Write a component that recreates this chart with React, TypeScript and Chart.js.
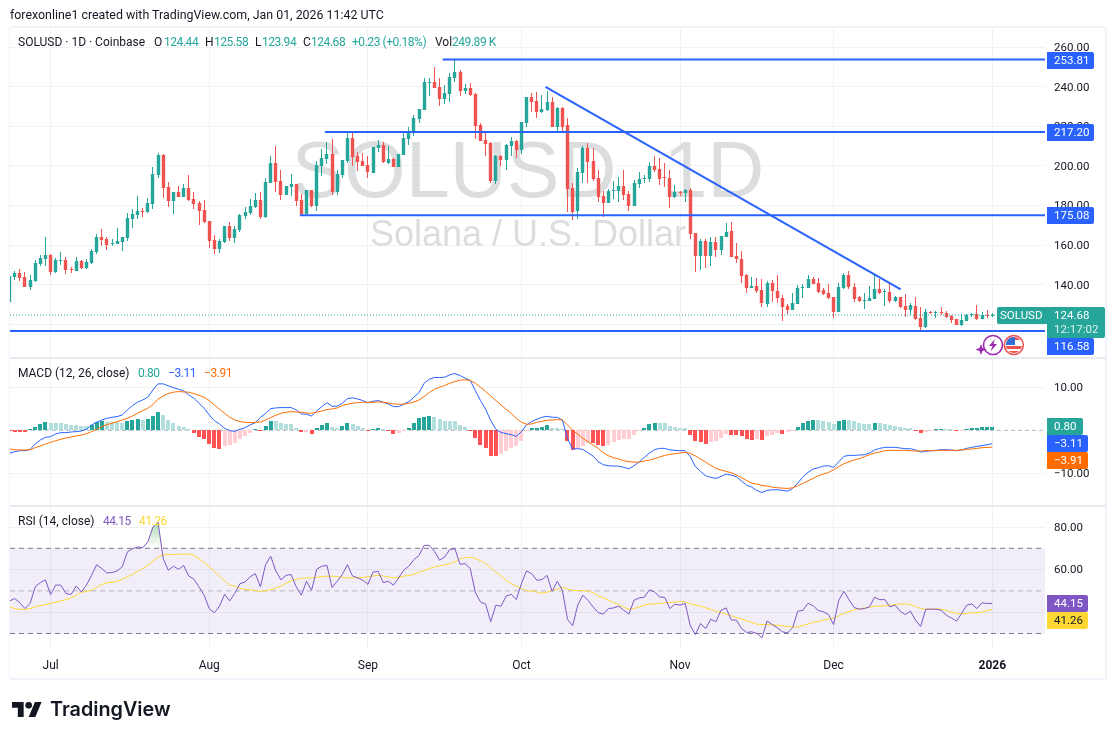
import React, { useEffect, useRef } from "react";
import { Chart, registerables } from "chart.js";

Chart.register(...registerables);

// Calendar: index 0 of every series is 23 Jun 2025, values are expressed in days after 1 Jul 2025
const firstDay = -8;
const monthDays = [0, 31, 62, 92, 123, 153, 184];
const monthLabels = ["Jul", "Aug", "Sep", "Oct", "Nov", "Dec", "2026"];

const openPrices = [
  131.5,143.9,145.8,143.9,138.8,141.9,150.5,153.0,
  155.0,146.4,152.2,152.5,148.0,147.1,152.0,148.5,
  151.0,156.5,164.1,163.1,160.8,160.8,161.6,163.6,
  173.2,175.2,177.3,176.8,180.8,195.6,205.6,189.4,
  182.3,186.9,184.3,188.9,183.3,181.3,177.8,172.2,
  162.6,158.1,161.6,169.7,163.6,167.7,174.7,176.3,
  179.3,182.8,174.2,191.4,201.5,192.4,185.3,189.4,
  190.9,182.8,175.8,187.9,179.8,200.0,203.5,206.1,
  186.9,195.5,202.5,214.2,205.1,202.5,200.5,196.5,
  209.1,210.6,201.5,203.5,199.5,205.6,213.6,216.7,
  223.8,228.3,242.0,242.5,239.9,233.9,236.4,244.5,
  247.5,237.9,239.4,236.4,220.7,213.1,211.6,192.4,
  205.1,203.0,210.1,212.6,208.1,221.7,234.9,232.8,
  227.3,228.3,232.4,219.7,229.3,220.7,188.9,177.3,
  196.5,209.1,202.5,193.9,184.8,181.3,187.5,187.4,
  189.9,185.8,179.8,190.9,193.4,193.4,200.0,198.5,
  193.9,193.9,184.3,186.9,186.2,187.9,166.1,154.5,
  162.1,154.5,161.4,157.5,163.9,167.1,154.5,153.2,
  144.9,138.5,139.2,137.3,130.1,140.9,136.8,133.1,
  129.1,127.2,130.1,138.2,138.2,143.1,141.0,137.3,
  136.0,133.6,126.1,138.2,144.9,139.0,133.6,131.8,
  132.0,132.6,137.8,136.2,136.3,132.0,133.6,129.3,
  127.2,129.3,123.2,118.8,126.2,125.6,126.2,125.9,
  124.4,122.5,119.5,121.9,124.7,125.2,122.9,124.7,
  124.44,
];
const highPrices = [
  144.4,146.8,148.0,146.3,144.8,152.5,155.0,164.1,
  155.5,153.3,156.5,154.0,149.0,154.0,152.5,153.0,
  158.1,165.6,168.2,164.1,163.1,168.7,164.1,176.3,
  178.3,184.8,178.8,183.8,199.5,206.6,206.1,191.9,
  186.9,189.9,190.9,195.5,186.9,182.3,182.8,172.2,
  165.1,163.1,169.7,171.7,169.7,175.8,179.3,183.3,
  186.4,186.9,193.9,205.1,210.1,198.0,189.9,196.0,
  190.9,185.9,187.9,187.9,202.5,208.6,212.1,213.6,
  198.0,203.0,217.2,217.7,207.1,206.6,205.1,209.6,
  213.2,212.1,210.1,204.0,206.1,217.2,219.7,225.8,
  228.8,244.5,244.5,250.0,244.5,240.9,247.0,253.6,
  248.5,241.4,241.9,236.9,221.7,217.2,212.1,205.6,
  205.6,211.1,214.7,213.1,222.2,234.9,236.9,237.4,
  235.9,237.9,234.9,229.8,229.8,224.3,191.4,199.0,
  210.1,211.6,209.1,198.0,187.4,188.4,192.4,194.5,
  198.0,187.4,192.9,197.0,195.5,202.0,205.1,204.0,
  201.5,198.0,190.4,187.4,188.4,188.9,166.1,163.1,
  163.1,163.9,163.9,164.6,171.0,171.7,160.9,157.0,
  145.2,144.1,143.6,143.1,141.9,142.4,144.9,134.8,
  130.1,135.7,139.7,140.4,144.9,144.1,143.6,138.2,
  140.2,133.6,140.7,145.8,147.0,140.7,134.1,136.0,
  139.4,144.9,142.9,137.7,140.7,134.3,134.0,135.2,
  130.6,133.8,128.9,127.6,126.7,126.7,128.9,126.7,
  124.7,122.9,125.0,125.2,125.7,129.8,126.2,127.1,
  125.58,
];
const lowPrices = [
  131.5,142.6,142.0,138.8,137.3,141.6,149.5,149.5,
  144.9,145.9,150.1,145.6,145.9,147.1,148.1,148.0,
  150.5,155.5,159.6,157.5,159.6,160.6,157.0,162.1,
  168.7,173.2,174.2,176.3,178.3,193.9,183.8,179.3,
  175.8,184.3,184.3,182.3,178.3,170.2,171.2,158.6,
  155.5,156.0,161.1,162.1,161.1,166.7,173.2,175.2,
  178.8,173.2,173.7,191.4,186.9,182.8,185.3,184.8,
  179.8,175.2,175.8,179.3,177.3,195.0,201.0,185.3,
  185.3,193.8,201.5,200.0,197.5,200.0,193.9,196.5,
  207.1,201.5,201.0,199.5,199.5,205.6,210.6,215.2,
  221.7,228.3,235.4,239.4,230.3,231.3,232.4,242.5,
  235.4,236.4,235.4,213.6,212.6,205.1,191.4,190.9,
  200.0,198.0,205.1,204.0,206.1,219.7,227.3,224.3,
  226.8,227.8,219.7,217.7,216.7,176.8,172.7,173.2,
  191.4,191.4,192.4,181.8,174.2,181.3,183.3,181.8,
  182.8,177.3,179.8,188.9,191.4,191.9,197.0,190.4,
  189.4,178.8,183.8,184.8,181.8,163.1,146.4,147.4,
  148.3,149.6,154.2,155.0,163.9,154.0,151.0,141.0,
  136.0,138.5,135.7,128.6,128.6,131.5,130.6,121.7,
  125.1,127.2,130.1,133.1,138.2,140.2,135.7,134.8,
  132.6,123.4,126.1,137.8,137.7,131.1,131.1,127.7,
  132.0,132.6,135.3,129.3,130.6,131.5,128.2,123.9,
  124.7,122.2,116.6,118.0,125.2,123.4,124.7,123.0,
  120.8,119.5,119.2,121.5,123.5,122.2,122.9,123.4,
  123.94,
];
const closePrices = [
  144.4,145.8,143.2,139.0,142.2,151.0,153.5,155.0,
  146.6,152.5,152.5,147.6,147.5,152.0,148.5,151.5,
  157.0,164.1,162.6,160.1,161.1,162.1,164.1,173.7,
  175.8,177.3,176.8,181.3,196.0,205.6,188.9,182.3,
  186.9,184.3,188.9,182.8,180.8,177.3,171.7,162.1,
  158.1,162.1,169.7,163.6,168.2,175.2,176.8,179.8,
  182.8,174.2,191.9,201.5,191.9,185.3,189.9,190.9,
  182.3,175.8,187.9,179.8,200.5,204.0,206.1,186.9,
  196.0,203.0,214.2,204.5,202.0,200.0,197.0,209.6,
  210.6,202.0,203.5,199.5,206.1,214.2,217.2,224.3,
  228.8,242.5,242.5,239.4,233.9,236.9,245.0,247.5,
  237.9,239.4,235.9,220.2,212.6,211.1,192.4,205.1,
  203.0,210.6,212.6,208.1,222.2,234.9,232.4,227.3,
  228.8,232.4,219.7,229.3,219.7,188.4,176.8,197.0,
  209.1,202.0,193.4,184.3,181.3,187.4,187.9,189.9,
  185.3,179.8,191.4,193.4,193.9,200.0,198.0,193.4,
  193.8,184.3,186.9,186.2,187.9,165.6,154.5,162.1,
  154.5,161.4,157.5,164.6,166.8,154.0,153.2,144.4,
  138.5,139.2,136.8,130.6,140.9,136.8,133.1,128.6,
  127.2,130.6,138.5,139.0,143.1,140.5,136.5,135.2,
  133.1,126.1,138.9,144.9,138.7,133.0,131.8,132.3,
  133.3,137.8,135.7,136.8,131.8,134.0,128.6,127.2,
  129.6,122.7,118.8,126.2,125.6,126.2,125.7,123.9,
  122.2,119.8,122.2,124.7,125.2,122.7,124.7,124.4,
  124.68,
];

const macdHist = [
  -0.2,-0.3,-0.3,-0.4,0.1,0.7,1.5,1.9,
  1.7,1.7,1.7,1.5,1.3,1.3,1.0,1.0,
  1.3,1.9,2.2,2.0,2.0,1.9,1.7,2.2,
  2.4,2.6,2.4,2.7,3.3,4.3,3.6,2.5,
  1.7,1.0,0.8,0.1,-0.7,-1.5,-2.1,-3.2,
  -4.0,-4.3,-3.6,-3.4,-2.9,-2.1,-1.3,-0.6,
  0.4,-0.1,1.0,2.2,2.2,1.7,1.5,1.5,
  0.5,-0.5,-0.4,-0.8,0.5,1.2,1.7,0.8,
  0.6,1.0,1.7,1.4,0.9,0.5,-0.1,0.3,
  0.5,0.1,-0.2,-0.8,-0.7,-0.1,0.5,1.6,
  2.8,3.2,3.3,3.0,2.6,2.2,2.2,2.1,
  1.2,0.7,-0.2,-1.8,-3.3,-4.1,-5.9,-5.9,
  -5.6,-4.7,-4.1,-3.6,-2.5,-0.1,0.5,0.6,
  0.85,1.2,0.5,0.5,0.05,-2.5,-4.6,-4.3,
  -3.6,-2.9,-3.0,-3.4,-3.6,-3.4,-2.7,-2.2,
  -2.1,-2.0,-1.1,-0.1,0.5,1.5,1.7,1.7,
  1.7,1.1,0.7,0.5,0.5,-1.0,-2.5,-2.7,
  -3.2,-2.7,-2.5,-1.7,-0.95,-1.0,-1.2,-1.3,
  -2.1,-2.2,-2.1,-2.25,-1.4,-1.0,-0.6,-0.85,
  -0.5,-0.2,0.7,1.6,2.1,2.4,2.35,2.15,
  1.9,1.5,2.1,2.4,2.3,2.1,1.6,1.55,
  1.5,1.7,1.7,1.55,1.15,1.1,0.7,0.55,
  0.5,-0.15,-0.55,-0.3,-0.15,0.15,0.3,0.25,
  0.1,-0.1,-0.05,0.3,0.5,0.55,0.7,0.75,
  0.8,
];
const macdLine = [
  -5.35,-4.96,-4.73,-4.73,-4.42,-3.18,-2.25,-1.63,
  -1.47,-0.85,-0.54,-0.54,-0.39,-0.31,-0.16,0.23,
  1.24,1.86,2.40,2.79,3.02,3.18,3.57,4.73,
  5.74,6.51,7.05,7.67,9.38,10.78,10.78,10.31,
  9.92,9.53,9.15,8.22,7.44,6.28,5.12,3.57,
  2.25,1.47,0.47,-0.08,-0.23,0.23,0.62,1.24,
  1.78,3.02,3.95,5.04,5.19,5.27,5.27,5.27,
  4.73,3.80,3.72,3.33,4.50,5.50,6.43,5.58,
  5.58,6.28,7.36,7.52,7.29,6.90,6.36,6.74,
  6.90,6.51,6.12,5.50,5.50,6.05,6.67,7.67,
  8.76,10.93,11.86,12.25,12.25,12.33,12.87,13.18,
  12.71,12.09,11.55,9.22,6.90,4.88,2.25,0.23,
  -0.47,-0.78,-1.01,-1.40,-0.31,1.24,2.02,2.56,
  3.02,3.26,3.02,3.02,2.40,-1.86,-4.34,-4.26,
  -4.42,-5.19,-5.97,-7.29,-7.98,-8.22,-8.29,-8.29,
  -8.60,-8.91,-8.22,-7.36,-6.28,-5.27,-4.50,-4.19,
  -4.19,-4.57,-4.65,-4.73,-4.73,-6.12,-8.45,-9.53,
  -10.54,-10.93,-11.16,-10.70,-10.16,-10.39,-10.78,-11.78,
  -12.71,-13.18,-13.95,-14.42,-13.95,-13.80,-13.80,-13.95,
  -14.11,-13.49,-12.25,-10.78,-9.77,-8.99,-8.68,-8.29,
  -8.22,-8.60,-7.29,-6.05,-5.81,-5.81,-5.74,-5.66,
  -5.27,-4.57,-4.19,-3.95,-3.95,-3.95,-4.11,-4.26,
  -4.26,-4.57,-5.04,-4.88,-4.73,-4.65,-4.50,-4.50,
  -4.57,-4.73,-4.57,-4.19,-3.95,-3.72,-3.55,-3.35,
  -3.11,
];
const macdSignal = [
  -4.34,-4.50,-4.57,-4.57,-4.50,-4.03,-3.64,-3.18,
  -2.79,-2.40,-2.09,-1.78,-1.55,-1.32,-1.09,-0.78,
  -0.31,0.23,0.85,1.32,1.63,2.02,2.40,2.79,
  3.33,3.95,4.57,5.12,5.97,7.21,7.98,8.53,
  8.84,8.99,8.91,8.84,8.53,8.14,7.67,6.90,
  5.89,4.88,3.95,3.02,2.40,2.02,1.86,1.78,
  1.86,1.94,2.40,2.95,3.49,3.95,4.19,4.34,
  4.26,4.19,4.03,3.95,4.19,4.50,4.81,4.96,
  5.19,5.74,6.05,6.28,6.43,6.51,6.51,6.51,
  6.59,6.51,6.36,6.12,6.05,6.05,6.28,6.59,
  7.05,7.83,8.76,9.53,10.0,10.39,10.93,11.32,
  11.63,11.71,11.55,10.93,10.0,8.99,7.98,6.90,
  5.89,4.88,3.95,2.79,1.86,1.40,1.47,1.86,
  2.09,2.33,2.40,2.48,2.40,1.24,0.08,-0.93,
  -1.86,-2.64,-3.41,-4.19,-5.19,-5.89,-6.36,-6.67,
  -7.05,-7.29,-7.36,-7.36,-7.13,-6.90,-6.59,-6.20,
  -5.81,-5.58,-5.43,-5.27,-5.12,-5.35,-5.97,-6.67,
  -7.36,-8.14,-8.84,-9.22,-9.53,-9.84,-10.39,-11.01,
  -11.63,-12.25,-12.48,-12.79,-12.95,-13.18,-13.33,-13.41,
  -13.49,-13.33,-12.87,-12.33,-11.71,-11.16,-10.54,-10.16,
  -9.77,-9.15,-8.45,-7.75,-7.29,-6.90,-6.59,-6.12,
  -5.66,-5.27,-5.04,-4.73,-4.65,-4.65,-4.65,-4.65,
  -4.73,-4.81,-4.81,-4.73,-4.73,-4.73,-4.65,-4.65,
  -4.65,-4.65,-4.57,-4.42,-4.34,-4.19,-4.03,-3.99,
  -3.91,
];

const rsiLine = [
  45.3,46.4,44.4,41.7,44.1,51.9,53.9,55.2,
  48.3,52.7,52.7,48.8,48.3,52.3,49.5,52.7,
  57.3,62.3,60.5,58.4,58.6,59.4,61.3,68.3,
  69.8,70.6,70.3,73.0,80.0,82.3,65.2,59.7,
  61.6,60.2,61.9,57.0,55.5,51.9,48.0,41.7,
  39.7,42.8,48.4,45.3,48.8,53.4,54.2,56.6,
  58.1,51.9,62.3,66.3,59.4,55.2,57.3,57.7,
  51.9,48.0,54.5,50.3,60.2,61.6,62.0,51.6,
  54.5,57.7,62.3,57.0,56.1,55.0,53.1,58.8,
  59.2,53.9,54.5,52.7,56.1,59.7,61.6,64.7,
  66.7,71.4,71.4,68.6,64.4,65.9,69.4,69.8,
  62.5,62.8,60.5,49.2,44.8,43.8,35.5,43.3,
  42.8,47.5,48.4,45.9,53.4,59.4,58.1,55.0,
  55.3,57.3,49.8,54.5,50.3,36.7,33.6,43.3,
  48.0,45.6,42.5,39.8,39.1,41.7,42.0,42.8,
  40.9,39.1,45.6,46.7,47.0,50.5,49.5,47.2,
  46.9,41.7,43.8,43.3,44.1,33.6,29.5,34.7,
  32.3,36.7,35.5,40.9,42.0,36.3,36.3,32.3,
  30.5,30.8,30.0,28.0,35.9,34.2,32.7,30.8,
  30.3,32.8,40.5,40.9,44.2,43.0,40.8,40.2,
  38.9,34.2,45.6,49.8,45.9,42.2,41.4,41.7,
  42.5,47.0,45.9,45.9,42.5,43.3,40.5,38.9,
  40.5,36.3,33.3,41.4,41.4,41.4,40.9,38.6,
  37.3,35.8,39.4,43.3,43.9,41.7,44.4,44.1,
  44.15,
];
const rsiAverage = [
  42.5,41.7,41.4,41.3,41.7,42.5,43.1,43.6,
  44.1,44.7,45.3,45.9,46.7,48.0,49.4,49.7,
  50.3,51.6,53.0,53.8,54.1,54.4,55.5,56.6,
  57.8,59.1,60.5,62.0,63.9,65.9,67.0,67.0,
  67.0,67.2,67.3,67.3,66.7,65.2,63.3,61.3,
  59.2,57.0,54.8,52.7,52.2,51.1,50.8,50.5,
  50.2,49.7,50.0,50.6,51.3,52.3,53.6,54.8,
  55.5,55.8,56.1,56.1,56.4,56.7,56.9,56.9,
  56.7,56.4,56.1,56.1,56.3,56.3,56.7,57.0,
  57.3,57.0,56.6,56.1,56.4,56.9,57.3,57.8,
  58.9,59.5,60.5,61.3,61.7,62.3,62.8,63.6,
  65.2,65.5,65.8,65.2,64.1,62.8,60.9,58.9,
  57.0,55.0,53.4,52.2,51.1,50.2,49.8,49.5,
  48.9,49.4,50.2,50.8,51.7,50.8,50.2,50.2,
  50.0,50.0,49.1,47.7,46.7,45.6,44.5,43.6,
  42.3,41.4,41.6,42.5,43.3,43.8,43.9,44.1,
  44.4,44.5,44.8,45.0,44.8,43.9,43.3,42.8,
  42.0,41.3,40.5,39.8,39.1,38.3,37.5,36.9,
  35.9,35.2,34.4,34.2,34.2,34.1,33.9,33.6,
  33.3,33.0,33.1,33.8,34.4,35.2,35.6,36.3,
  36.7,37.2,38.3,39.4,40.3,41.1,41.7,41.9,
  42.3,42.8,42.8,43.0,43.3,43.6,43.8,43.9,
  43.6,42.7,41.7,41.4,41.4,41.6,41.4,40.8,
  40.0,39.4,39.2,39.4,39.7,39.8,40.0,40.8,
  41.26,
];

const priceTicks = [120, 140, 160, 180, 200, 220, 240, 260];
const macdTicks = [-10, 10];
const rsiTicks = [40, 60, 80];

// Hand-drawn lines on the chart: [start day, end day, start price, end price]
const resistanceTop = [76.6, 194.3, 253.81, 253.81];
const resistanceMid = [53.6, 194.3, 217.2, 217.2];
const supportMid = [48.7, 194.3, 175.08, 175.08];
const supportLow = [-7.93, 194.3, 116.58, 116.58];
const downTrend = [96.7, 166.1, 240.0, 137.7];
const lastPrice = 124.68;
const rsiLevels = [70, 50, 30];
const xRange = [-7.93, 194.3];
const priceRange = [102.97, 269.72];
const macdRange = [-17.33, 16.78];
const rsiRange = [22.25, 90.33];

const UP = "#26a69a";
const DOWN = "#ef5350";
const BLUE = "#2962ff";
const ORANGE = "#ff6d00";
const PURPLE = "#7e57c2";
const YELLOW = "#fdd835";
const INK = "#131722";
const GRID = "#f1f2f4";
const FONT = "Roboto, 'Open Sans', sans-serif";
const TICK_PX = 11.5;

const xy = (vals: number[]) => vals.map((y, i) => ({ x: firstDay + i, y }));
const ranged = (a: number[], b: number[]) => a.map((v, i) => ({ x: firstDay + i, y: [v, b[i]] }));
const segment = (s: number[]) => [{ x: s[0], y: s[2] }, { x: s[1], y: s[3] }];
const level = (v: number) => [{ x: xRange[0], y: v }, { x: xRange[1], y: v }];

const candleColors = openPrices.map((o, i) => (closePrices[i] >= o ? UP : DOWN));
const histColors = macdHist.map((h, i) => {
  const prev = i > 0 ? macdHist[i - 1] : h;
  if (h >= 0) return h > prev ? UP : "#b2dfdb";
  return h > prev ? "#ffcdd2" : "#ff5252";
});

const priceTags = [
  { text: "253.81", top: 52, h: 17, w: 47, bg: BLUE, fg: "#fff" },
  { text: "217.20", top: 124, h: 17, w: 47, bg: BLUE, fg: "#fff" },
  { text: "175.08", top: 207, h: 17, w: 47, bg: BLUE, fg: "#fff" },
  { text: "116.58", top: 338, h: 17, w: 47, bg: BLUE, fg: "#fff" },
  { text: "0.80", top: 418, h: 17, w: 36, bg: UP, fg: "#fff" },
  { text: "\u22123.11", top: 435, h: 17, w: 41, bg: BLUE, fg: "#fff" },
  { text: "\u22123.91", top: 452, h: 17, w: 41, bg: ORANGE, fg: "#fff" },
  { text: "44.15", top: 595, h: 17, w: 41, bg: PURPLE, fg: "#fff" },
  { text: "41.26", top: 612, h: 17, w: 41, bg: YELLOW, fg: INK },
];

const crispBars = {
  id: "crispBars",
  beforeDatasetsDraw(chart: any) {
    chart.getSortedVisibleDatasetMetas().forEach((meta: any) => {
      if (meta.type !== "bar") return;
      meta.data.forEach((el: any) => {
        el.x = el.width === 4 ? Math.round(el.x - 2) + 2 : Math.floor(el.x) + 0.5;
        el.y = Math.round(el.y);
        el.base = Math.round(el.base);
      });
    });
  },
};

const watermark = {
  id: "watermark",
  beforeDatasetsDraw(chart: any) {
    const { ctx } = chart;
    ctx.save();
    ctx.fillStyle = "#dcddde";
    ctx.textAlign = "center";
    ctx.textBaseline = "alphabetic";
    ctx.font = "79px 'Liberation Sans', Arial, sans-serif";
    ctx.wordSpacing = "25px";
    ctx.fillText("SOLUSD 1D", 528, 197);
    ctx.wordSpacing = "0px";
    ctx.font = "36px 'Liberation Sans', Arial, sans-serif";
    ctx.fillText("Solana / U.S. Dollar", 528, 246);
    ctx.restore();
  },
};

const tags = {
  id: "tags",
  afterDraw(chart: any) {
    const { ctx } = chart;
    const left = 1047;
    const box = (x: number, y: number, w: number, h: number, bg: string, r: any = 2) => {
      ctx.fillStyle = bg;
      ctx.beginPath();
      ctx.roundRect(x, y, w, h, r);
      ctx.fill();
    };
    ctx.save();
    ctx.textBaseline = "middle";
    ctx.textAlign = "left";
    ctx.font = `${TICK_PX}px ${FONT}`;
    priceTags.forEach((t) => {
      box(left, t.top, t.w, t.h, t.bg, [0, 2, 2, 0]);
      ctx.fillStyle = t.fg;
      ctx.fillText(t.text, left + 7, t.top + t.h / 2 + 0.5);
    });
    box(left, 307, 58, 31, UP, [0, 2, 2, 0]);
    ctx.fillStyle = "#fff";
    ctx.fillText("124.68", left + 7, 316);
    ctx.fillStyle = "rgba(255,255,255,0.85)";
    ctx.fillText("12:17:02", left + 7, 330);
    box(997, 307, 50, 17, UP, [2, 0, 0, 2]);
    ctx.fillStyle = "#fff";
    ctx.fillText("SOLUSD", 1000, 316);
    ctx.restore();
  },
};

const Label = ({ x, y, color = INK, size = 12, spacing = 0, children }: any) => (
  <span
    style={{
      position: "absolute",
      left: x,
      top: y,
      color,
      fontSize: size,
      fontFamily: FONT,
      letterSpacing: spacing,
      lineHeight: "16px",
      whiteSpace: "nowrap",
    }}
  >
    {children}
  </span>
);
const NUM = -0.45;

export default function App() {
  const ref = useRef<HTMLCanvasElement | null>(null);

  useEffect(() => {
    const canvas = ref.current!;
    const ctx2d = canvas.getContext("2d")!;
    const overbought = ctx2d.createLinearGradient(0, 522, 0, 548);
    overbought.addColorStop(0, "rgba(76,175,80,0.45)");
    overbought.addColorStop(1, "rgba(76,175,80,0)");

    const line = (data: any[], axis: string, color: string, width: number, order: number, extra: any = {}) => ({
      type: "line",
      data,
      yAxisID: axis,
      borderColor: color,
      borderWidth: width,
      pointRadius: 0,
      pointHoverRadius: 0,
      tension: 0,
      fill: false,
      order,
      ...extra,
    });
    const bar = (data: any[], axis: string, colors: string[], width: number, order: number) => ({
      type: "bar",
      data,
      yAxisID: axis,
      backgroundColor: colors,
      maxBarThickness: width,
      categoryPercentage: 1,
      barPercentage: 1,
      grouped: false,
      minBarLength: 1,
      inflateAmount: 0,
      borderWidth: 0,
      order,
    });
    const yScale = (range: number[], ticks: number[], weight: number) => ({
      type: "linear",
      axis: "y",
      position: "right",
      stack: "panes",
      stackWeight: weight,
      min: range[0],
      max: range[1],
      grid: { color: GRID, drawTicks: false },
      border: { display: false },
      ticks: {
        color: INK,
        padding: 9,
        labelOffset: 1,
        autoSkip: false,
        includeBounds: false,
        font: { family: FONT, size: TICK_PX },
        callback: (v: number) => (v < 0 ? "\u2212" + Math.abs(v).toFixed(2) : v.toFixed(2)),
      },
      afterBuildTicks: (s: any) => {
        s.ticks = ticks.map((value) => ({ value }));
      },
      afterFit: (s: any) => {
        s.width = 62;
      },
    });

    const chart = new Chart(canvas, {
      type: "bar",
      data: {
        datasets: [
          bar(ranged(lowPrices, highPrices), "y", candleColors, 1, 6),
          bar(ranged(openPrices, closePrices), "y", candleColors, 3.4, 5),
          line(segment(resistanceTop), "y", BLUE, 2, 1),
          line(segment(resistanceMid), "y", BLUE, 2, 1),
          line(segment(supportMid), "y", BLUE, 2, 1),
          line(segment(supportLow), "y", BLUE, 2, 1),
          line(segment(downTrend), "y", BLUE, 2, 1),
          line(level(lastPrice), "y", UP, 1, 4, { borderDash: [1, 2] }),

          line(level(0), "macd", "rgba(120,123,134,0.55)", 1, 9, { borderDash: [4, 3] }),
          bar(xy(macdHist), "macd", histColors, 4, 8),
          line(xy(macdLine), "macd", BLUE, 1, 3),
          line(xy(macdSignal), "macd", ORANGE, 1, 2),

          line(level(rsiLevels[0]), "rsi", "#787b86", 1, 12, {
            borderDash: [5, 4],
            fill: "+1",
            backgroundColor: "rgba(126,87,194,0.1)",
          }),
          line(level(rsiLevels[2]), "rsi", "#787b86", 1, 12, { borderDash: [5, 4] }),
          line(level(rsiLevels[1]), "rsi", "rgba(120,123,134,0.5)", 1, 11, { borderDash: [5, 4] }),
          line(xy(rsiAverage), "rsi", YELLOW, 1, 3),
          line(xy(rsiLine), "rsi", PURPLE, 1, 2, {
            fill: { target: { value: rsiLevels[0] }, above: overbought, below: "rgba(0,0,0,0)" },
          }),
        ] as any,
      },
      options: {
        responsive: false,
        maintainAspectRatio: false,
        animation: false,
        devicePixelRatio: 1,
        events: [],
        layout: { padding: { left: 10, right: 10, top: 28, bottom: 60 } },
        plugins: { legend: { display: false }, tooltip: { enabled: false } },
        scales: {
          x: {
            type: "linear",
            min: xRange[0],
            max: xRange[1],
            offset: false,
            grid: { color: GRID, drawTicks: false, offset: false },
            border: { display: false },
            ticks: {
              color: INK,
              padding: 9,
              autoSkip: false,
              maxRotation: 0,
              includeBounds: false,
              font: (c: any) => ({
                family: FONT,
                size: TICK_PX + 0.5,
                weight: c.tick && c.tick.value === 184 ? "bold" : "normal",
              }),
              callback: (v: number) => monthLabels[monthDays.indexOf(v)] ?? "",
            },
            afterBuildTicks: (s: any) => {
              s.ticks = monthDays.map((value) => ({ value }));
            },
            afterFit: (s: any) => {
              s.height = 29;
            },
          },
          y: yScale(priceRange, priceTicks, 330),
          macd: yScale(macdRange, macdTicks, 147),
          rsi: yScale(rsiRange, rsiTicks, 145),
        } as any,
      },
      plugins: [crispBars, watermark, tags],
    } as any);

    return () => chart.destroy();
  }, []);

  const rule = (top: number) => (
    <div style={{ position: "absolute", left: 10, top, width: 1096, height: 2, background: "#e6e9f0" }} />
  );

  return (
    <div style={{ position: "absolute", left: 0, top: 0, width: 1117, height: 739, background: "#fff", overflow: "hidden" }}>
      <canvas ref={ref} width={1117} height={739} style={{ position: "absolute", left: 0, top: 0, width: 1117, height: 739 }} />
      <div
        style={{
          position: "absolute",
          left: 9,
          top: 26,
          width: 1098,
          height: 654,
          borderStyle: "solid",
          borderColor: "#f0f3fa",
          borderWidth: "2px 2px 2px 1px",
          borderRadius: 3,
          boxSizing: "border-box",
          pointerEvents: "none",
        }}
      />
      {rule(357)}
      {rule(505)}

      <Label x={10} y={7} size={12.4}>forexonline1 created with TradingView.com, Jan 01, 2026 11:42 UTC</Label>

      <Label x={18} y={34}>SOLUSD · 1D · Coinbase</Label>
      <Label x={154} y={34}>O</Label>
      <Label x={164} y={34} color={UP} spacing={NUM}>124.44</Label>
      <Label x={205} y={34}>H</Label>
      <Label x={214} y={34} color={UP} spacing={NUM}>125.58</Label>
      <Label x={255} y={34}>L</Label>
      <Label x={262} y={34} color={UP} spacing={NUM}>123.94</Label>
      <Label x={303} y={34}>C</Label>
      <Label x={311} y={34} color={UP} spacing={NUM}>124.68</Label>
      <Label x={352} y={34} color={UP} spacing={NUM}>+0.23 (+0.18%)</Label>
      <Label x={435} y={34}>Vol</Label>
      <Label x={452} y={34} color={UP} spacing={NUM}>249.89 K</Label>

      <Label x={18} y={365}>MACD (12, 26, close)</Label>
      <Label x={138} y={365} color={UP} spacing={NUM}>0.80</Label>
      <Label x={168} y={365} color={BLUE} spacing={NUM}>{"\u22123.11"}</Label>
      <Label x={204} y={365} color={ORANGE} spacing={NUM}>{"\u22123.91"}</Label>

      <Label x={18} y={513}>RSI (14, close)</Label>
      <Label x={103} y={513} color={PURPLE} spacing={NUM}>44.15</Label>
      <Label x={139} y={513} color={YELLOW} spacing={NUM}>41.26</Label>

      <svg style={{ position: "absolute", left: 976, top: 333, width: 50, height: 25 }} viewBox="0 0 50 25">
        <circle cx="17" cy="12" r="9.5" fill="#fff" stroke="#9c27b0" strokeWidth="1.6" />
        <path d="M19 6 L13 13 L16.5 13 L14.5 18.5 L21 11 L17.5 11 Z" fill="#9c27b0" />
        <path d="M5 11 L6.5 15 L10.5 16.5 L6.5 18 L5 22 L3.5 18 L-0.5 16.5 L3.5 15 Z" fill="#9c27b0" />
        <clipPath id="flagClip"><circle cx="37.8" cy="12" r="8" /></clipPath>
        <g clipPath="url(#flagClip)">
          <rect x="29" y="3" width="18" height="18" fill="#fff" />
          <rect x="29" y="4" width="18" height="3" fill="#ef5350" />
          <rect x="29" y="13" width="18" height="3" fill="#ef5350" />
          <rect x="29" y="18" width="18" height="3" fill="#ef5350" />
          <rect x="29" y="3" width="10" height="9" fill="#2f6fd6" />
        </g>
        <circle cx="37.8" cy="12" r="9.5" fill="none" stroke="#ef5350" strokeWidth="1.6" />
      </svg>

      <svg style={{ position: "absolute", left: 12, top: 702, width: 30, height: 15 }} viewBox="0 4 36 18">
        <path d="M14 22H7V11H0V4h14v18zM28 22h-8l7.5-18h8L28 22z" fill="#131722" />
        <circle cx="20" cy="8" r="4" fill="#131722" />
      </svg>
      <span
        style={{
          position: "absolute",
          left: 50,
          top: 695,
          fontFamily: "Inter, Roboto, sans-serif",
          fontWeight: 600,
          fontSize: 19.8,
          lineHeight: "28px",
          color: INK,
          whiteSpace: "nowrap",
        }}
      >
        TradingView
      </span>
    </div>
  );
}
